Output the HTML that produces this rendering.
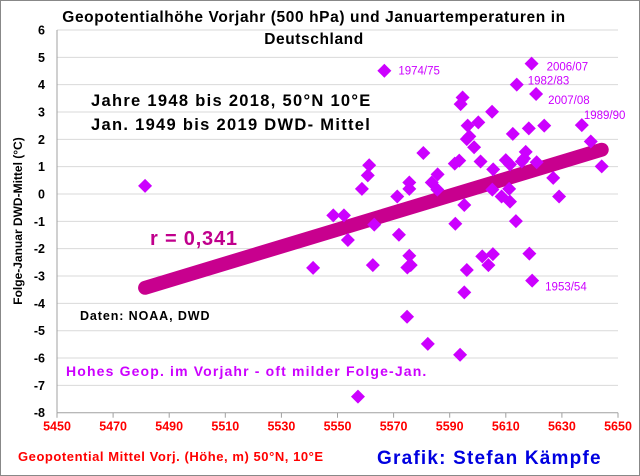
<!DOCTYPE html>
<html><head><meta charset="utf-8"><style>
body{margin:0;background:#fff}
svg{display:block;font-family:"Liberation Sans",Arial,sans-serif}
</style></head><body>
<svg id="c" width="640" height="476" viewBox="0 0 640 476">
<rect x="0.5" y="0.5" width="639" height="475" fill="#fff" stroke="#888"/>
<g id="grid"></g><g id="axes"></g><g id="trend"></g><g id="pts"></g><g id="txt"></g>
<text x="314" y="22" text-anchor="middle" font-size="15.5" font-weight="bold" letter-spacing="0.6">Geopotentialhöhe Vorjahr  (500 hPa) und Januartemperaturen in</text>
<text x="314" y="44" text-anchor="middle" font-size="15.5" font-weight="bold" letter-spacing="0.6">Deutschland</text>
<text x="91" y="106" font-size="16.5" font-weight="bold" letter-spacing="1.3">Jahre 1948 bis 2018, 50°N 10°E</text>
<text x="91" y="130" font-size="16.5" font-weight="bold" letter-spacing="1.3">Jan. 1949 bis 2019 DWD- Mittel</text>
<text x="150" y="245" font-size="20" font-weight="bold" letter-spacing="0.8" fill="#c0008c">r = 0,341</text>
<text x="80" y="320" font-size="12.5" font-weight="bold" letter-spacing="0.9">Daten: NOAA, DWD</text>
<text x="66" y="376" font-size="14" font-weight="bold" letter-spacing="1.15" fill="#cc00ff">Hohes Geop. im Vorjahr - oft milder Folge-Jan.</text>
<text transform="translate(22,221) rotate(-90)" text-anchor="middle" font-size="12" font-weight="bold">Folge-Januar DWD-Mittel (°C)</text>
<text x="18" y="461" font-size="13" font-weight="bold" letter-spacing="0.55" fill="#f00">Geopotential Mittel Vorj. (Höhe, m) 50°N, 10°E</text>
<text x="377" y="464" font-size="19" font-weight="bold" letter-spacing="1.2" fill="#0000e0">Grafik: Stefan Kämpfe</text>
</svg>
<script>
const xs=[5481.4,5566.7,5619.2,5613.9,5620.8,5637.1,5640.3,5644.2,5594.6,5593.9,5605.1,5596.4,5600.2,5597.0,5596.1,5598.7,5612.5,5618.2,5623.7,5617.1,5616.5,5615.7,5621.0,5610.0,5611.5,5601.0,5580.6,5561.3,5560.8,5558.7,5591.8,5593.4,5585.7,5583.6,5585.6,5575.6,5575.6,5571.3,5605.5,5626.9,5629.0,5605.2,5608.5,5611.2,5611.5,5595.2,5613.6,5592.0,5563.1,5548.5,5552.3,5553.7,5571.9,5575.6,5576.1,5574.9,5562.6,5601.6,5605.4,5603.8,5596.1,5618.4,5619.4,5595.2,5574.8,5582.2,5593.7,5557.3,5541.3];
const ys=[0.30,4.51,4.77,4.0,3.66,2.52,1.92,1.01,3.53,3.29,3.01,2.50,2.62,2.11,2.01,1.71,2.20,2.40,2.50,1.54,1.30,1.19,1.16,1.24,1.08,1.19,1.50,1.05,0.68,0.19,1.11,1.22,0.72,0.42,0.16,0.42,0.19,-0.09,0.90,0.59,-0.09,0.16,-0.09,0.19,-0.28,-0.40,-0.99,-1.09,-1.12,-0.78,-0.78,-1.68,-1.49,-2.26,-2.60,-2.69,-2.60,-2.28,-2.20,-2.60,-2.78,-2.18,-3.17,-3.60,-4.49,-5.48,-5.88,-7.41,-2.70];
const trendX=[5481.4,5644.2];
const trendY=[-3.43,1.62];
const xTicks=[5450,5470,5490,5510,5530,5550,5570,5590,5610,5630,5650];
const yTicks=[6,5,4,3,2,1,0,-1,-2,-3,-4,-5,-6,-7,-8];
const labelNames=["1974/75","2006/07","1982/83","2007/08","1989/90","1953/54"];
const labelIdx=[1,2,3,4,5,62];
const labelDx=[14,15,11,12,2,13];
const labelDy=[4,7,0,10,-6,10];
const NS="http://www.w3.org/2000/svg";
const X0=57,X1=618,Y0=30,Y1=412.7;
const sx=v=>X0+(v-5450)/200*(X1-X0);
const sy=v=>Y0+(6-v)/14*(Y1-Y0);
function mk(t,a,p){const e=document.createElementNS(NS,t);for(const k in a)e.setAttribute(k,a[k]);p.appendChild(e);return e;}
const G=document.getElementById('grid'),A=document.getElementById('axes'),T=document.getElementById('trend'),P=document.getElementById('pts'),TX=document.getElementById('txt');
yTicks.forEach(v=>{
 if(v>-8){const l=mk('line',{x1:X0,x2:X1,y1:sy(v),y2:sy(v),stroke:'#d9d9d9','stroke-width':1},G);
 
 }
 const t=mk('text',{x:45,y:sy(v)+4.5,'text-anchor':'end','font-size':12.5,'font-weight':'bold'},A);t.textContent=v;
 
 
});
const ya=mk('line',{x1:X0,x2:X0,y1:Y0,y2:Y1,stroke:'#a0a0a0'},A);


const xa=mk('line',{x1:X0,x2:X1,y1:Y1,y2:Y1,stroke:'#a0a0a0'},A);


xTicks.forEach(v=>{
 const k=mk('line',{x1:sx(v),x2:sx(v),y1:Y1,y2:Y1+5,stroke:'#a0a0a0'},A);
 
 
 const t=mk('text',{x:sx(v),y:Y1+18,'text-anchor':'middle','font-size':12.5,'font-weight':'bold',fill:'#f00'},A);t.textContent=v;
 
 
});
const tl=mk('line',{x1:sx(trendX[0]),y1:sy(trendY[0]),x2:sx(trendX[1]),y2:sy(trendY[1]),stroke:'#c8008e','stroke-width':14,'stroke-linecap':'round'},T);


xs.forEach((v,i)=>{
 const cx=sx(v),cy=sy(ys[i]),r=7;
 const d=mk('polygon',{points:`${cx},${cy-r} ${cx+r},${cy} ${cx},${cy+r} ${cx-r},${cy}`,fill:'#cc00ff'},P);
 
 
});
labelIdx.forEach((idx,j)=>{
 const t=mk('text',{x:sx(xs[idx])+labelDx[j],y:sy(ys[idx])+labelDy[j],'font-size':11.5,fill:'#cc00ff'},TX);
 t.textContent=labelNames[j];
 
 
});
</script>
</body></html>
